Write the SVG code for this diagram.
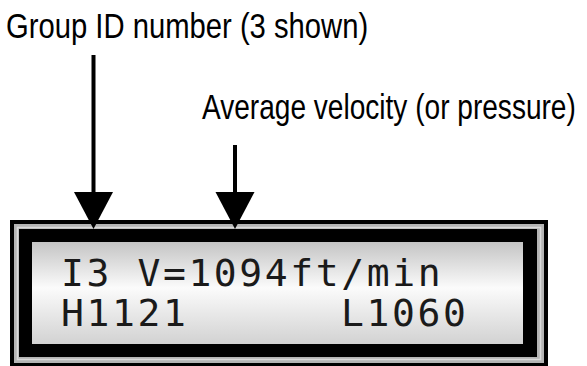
<svg xmlns="http://www.w3.org/2000/svg" width="587" height="366" viewBox="0 0 587 366">
  <style>
    .label { font-family: "Liberation Sans", Arial, sans-serif; font-size: 36px; fill: #000; }
    .lcd { font-family: "DejaVu Sans Mono", "Liberation Mono", monospace; font-size: 38px; fill: #1a1a1a; letter-spacing: 2.6px; }
    .shaft { stroke: #000; stroke-width: 4; fill: none; marker-end: url(#head); }
  </style>
  <defs>
    <marker id="head" viewBox="0 -20 37 40" refX="0" refY="0" markerWidth="37" markerHeight="40" markerUnits="userSpaceOnUse" orient="auto">
      <path d="M0,-19.5 L37,0 L0,19.5 Z" fill="#000"/>
    </marker>
    <linearGradient id="lcdGrad" x1="0" y1="0" x2="0" y2="1">
      <stop offset="0" stop-color="#c4c4c4"/>
      <stop offset="0.45" stop-color="#fbfbfb"/>
      <stop offset="1" stop-color="#d2d2d2"/>
    </linearGradient>
  </defs>

  <rect width="587" height="366" fill="#fff"/>

  <g id="display">
    <rect x="10" y="220" width="538" height="150" fill="#000"/>
    <rect x="14" y="224" width="530" height="139" fill="#b4b4b4"/>
    <rect x="17.5" y="227.5" width="523" height="132" fill="none" stroke="#dadada" stroke-width="1.5"/>
    <rect x="19" y="229" width="518" height="128" fill="#000"/>
    <rect x="32" y="242" width="491" height="102" fill="url(#lcdGrad)"/>
    <text class="lcd" x="61" y="286">I3 V=1094ft/min</text>
    <text class="lcd" x="61" y="326">H1121</text>
    <text class="lcd" x="341" y="326">L1060</text>
  </g>

  <g id="label-group" transform="translate(6,38) scale(0.812,1)">
    <text class="label" x="0" y="0">Group ID number (3 shown)</text>
  </g>
  <g id="label-velocity" transform="translate(202,119) scale(0.78,1)">
    <text class="label" x="0" y="0">Average velocity (or pressure)</text>
  </g>

  <g id="connectors">
    <line class="shaft" x1="93.5" y1="55" x2="93.5" y2="192"/>
    <line class="shaft" x1="235" y1="145" x2="235" y2="192"/>
  </g>
</svg>
